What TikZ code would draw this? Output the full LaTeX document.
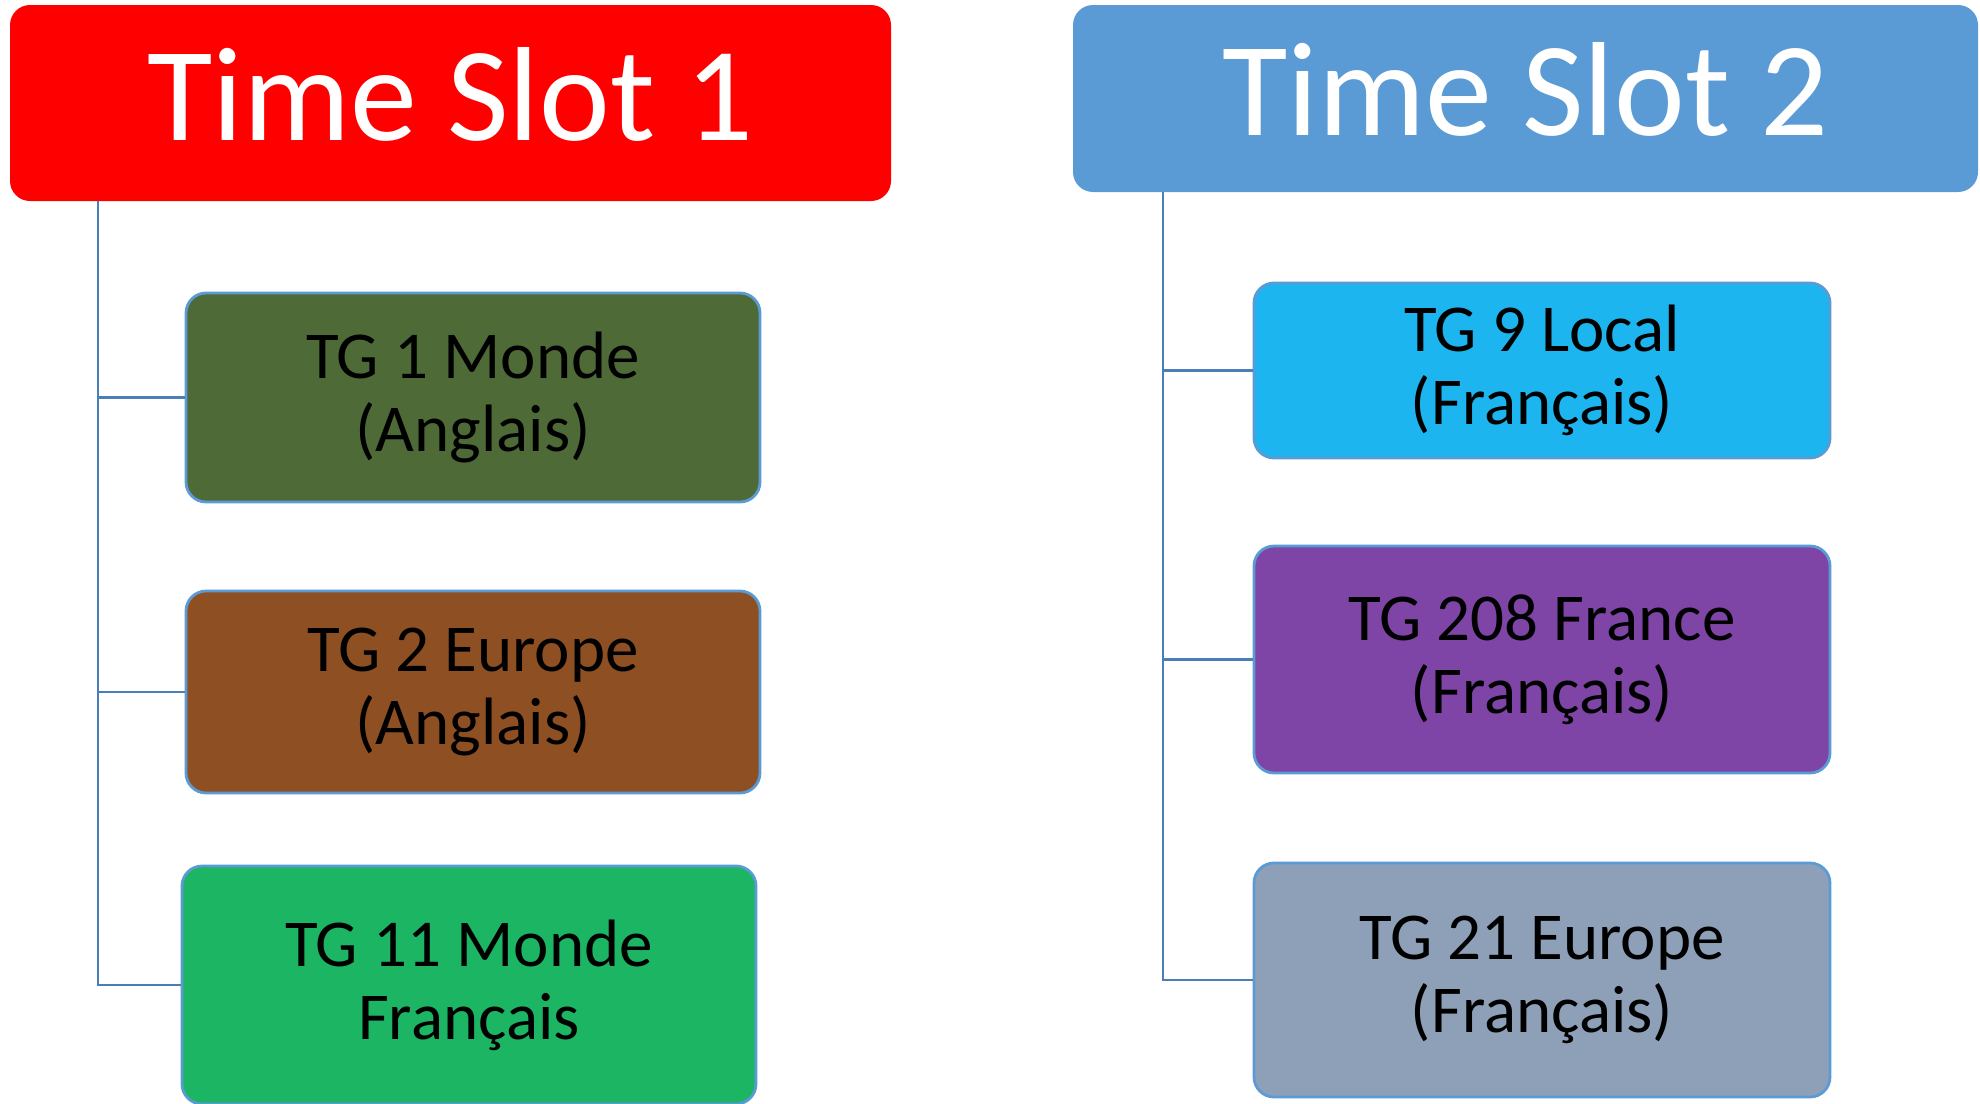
\documentclass[tikz,border=0pt]{standalone}
\usepackage{fontspec}
\setmainfont{Carlito}
\definecolor{slotred}{HTML}{FF0000}
\definecolor{slotblue}{HTML}{5B9BD5}
\definecolor{tgolive}{HTML}{4E6A37}
\definecolor{tgbrown}{HTML}{8E5023}
\definecolor{tggreen}{HTML}{1BB563}
\definecolor{tgcyan}{HTML}{1CB5EF}
\definecolor{tgpurple}{HTML}{7E44A6}
\definecolor{tggrey}{HTML}{8EA0B8}
\definecolor{edgeblue}{HTML}{5B9BD5}
\definecolor{linkblue}{HTML}{4A7EBB}
\tikzset{
  slotbox/.style={rounded corners=10pt, inner sep=0pt, text=white,
    font=\fontsize{67pt}{70pt}\selectfont, text height=48pt, text depth=11pt},
  tgbox/.style={draw=edgeblue, line width=1.4pt, rounded corners=10pt,
    inner sep=0pt, align=center, text=black,
    font=\fontsize{33.5pt}{36.5pt}\selectfont},
  link/.style={draw=linkblue, line width=1.2pt}
}
\begin{document}
\begin{tikzpicture}[x=0.5pt, y=-0.5pt]
  \useasboundingbox (0,0) rectangle (1980,1103);

  % headers
  \node[slotbox, fill=slotred, minimum width=440.5pt, minimum height=98pt]
    (slot1) at (450.5,103) {Time Slot 1};
  \node[slotbox, fill=slotblue, minimum width=452.5pt, minimum height=93.5pt]
    (slot2) at (1525.5,98.5) {Time Slot 2};

  % first column
  \node[tgbox, fill=tgolive, minimum width=287pt, minimum height=104.5pt]
    (tg1) at (473,397.5) {TG 1 Monde\\(Anglais)};
  \node[tgbox, fill=tgbrown, minimum width=287pt, minimum height=101pt]
    (tg2) at (473,692) {TG 2 Europe\\(Anglais)};
  \node[tgbox, fill=tggreen, minimum width=287pt, minimum height=119pt]
    (tg11) at (469,985) {TG 11 Monde\\Français};

  % second column
  \node[tgbox, fill=tgcyan, minimum width=288pt, minimum height=87.5pt]
    (tg9) at (1542,370.5) {TG 9 Local\\(Français)};
  \node[tgbox, fill=tgpurple, minimum width=288pt, minimum height=113.5pt]
    (tg208) at (1542,659.5) {TG 208 France\\(Français)};
  \node[tgbox, fill=tggrey, minimum width=288pt, minimum height=117pt]
    (tg21) at (1542,980) {TG 21 Europe\\(Français)};

  % trunk start points under the headers
  \coordinate (root1) at (98,201);
  \coordinate (root2) at (1163,192);

  \draw[link] (root1) |- (tg1.west);
  \draw[link] (root1) |- (tg2.west);
  \draw[link] (root1) |- (tg11.west);
  \draw[link] (root2) |- (tg9.west);
  \draw[link] (root2) |- (tg208.west);
  \draw[link] (root2) |- (tg21.west);
\end{tikzpicture}
\end{document}
